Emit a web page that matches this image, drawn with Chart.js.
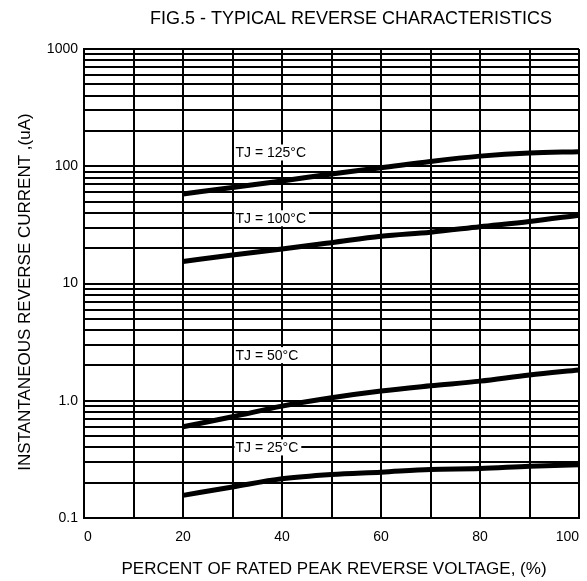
<!DOCTYPE html>
<html>
<head>
<meta charset="utf-8">
<script src="https://cdn.jsdelivr.net/npm/chart.js@4.4.1/dist/chart.umd.min.js"></script>
<style>
  html, body { margin: 0; padding: 0; background: #fff; }
</style>
</head>
<body>
<canvas id="revChart" width="587" height="581"></canvas>
<script>
// percent of rated peak reverse voltage
const voltage = [20, 30, 40, 50, 60, 70, 80, 90, 100];
// instantaneous reverse current (uA) per junction temperature
const tj125 = [58, 66, 75, 86, 97, 110, 122, 130, 133];
const tj100 = [15.4, 17.5, 19.7, 22.3, 25.3, 27.4, 30.5, 33.8, 38.3];
const tj50 = [0.60, 0.73, 0.90, 1.06, 1.21, 1.34, 1.47, 1.66, 1.83];
const tj25 = [0.156, 0.184, 0.216, 0.235, 0.246, 0.259, 0.264, 0.276, 0.284];

const seriesNames = ['TJ = 125°C', 'TJ = 100°C', 'TJ = 50°C', 'TJ = 25°C'];

const xTickValues = [0, 10, 20, 30, 40, 50, 60, 70, 80, 90, 100];
const yTickValues = [
  0.1, 0.2, 0.3, 0.4, 0.5, 0.6, 0.7, 0.8, 0.9,
  1, 2, 3, 4, 5, 6, 7, 8, 9,
  10, 20, 30, 40, 50, 60, 70, 80, 90,
  100, 200, 300, 400, 500, 600, 700, 800, 900,
  1000
];
const yTickLabels = { 0.1: '0.1', 1: '1.0', 10: '10', 100: '100', 1000: '1000' };

const FONT = "'Liberation Sans', Arial, sans-serif";

// where each curve's tag sits, in data units (x, uA)
const tagSpots = [
  { x: 30, y: 131 },
  { x: 30, y: 36 },
  { x: 30, y: 2.45 },
  { x: 30, y: 0.40 }
];

const textPlugin = {
  id: 'textPlugin',
  afterDraw(chart) {
    const ctx = chart.ctx;
    const xs = chart.scales.x, ys = chart.scales.y;
    ctx.save();
    ctx.fillStyle = '#000';

    // title
    ctx.font = '18px ' + FONT;
    ctx.textAlign = 'center';
    ctx.textBaseline = 'middle';
    ctx.fillText('FIG.5 - TYPICAL REVERSE CHARACTERISTICS', 351, 19);

    // x axis title
    ctx.font = '17px ' + FONT;
    ctx.fillText('PERCENT OF RATED PEAK REVERSE VOLTAGE, (%)', 334, 569);

    // y axis title
    ctx.save();
    ctx.translate(25, 292);
    ctx.rotate(-Math.PI / 2);
    ctx.fillText('INSTANTANEOUS REVERSE CURRENT ,(uA)', 0, 0);
    ctx.restore();

    // curve tags with white boxes over the grid
    ctx.font = '14px ' + FONT;
    ctx.textAlign = 'left';
    tagSpots.forEach((p, i) => {
      const px = xs.getPixelForValue(p.x) + 2;
      const py = ys.getPixelForValue(p.y);
      const w = ctx.measureText(seriesNames[i]).width + 4;
      ctx.fillStyle = '#fff';
      ctx.fillRect(px, py - 8, w, 16);
      ctx.fillStyle = '#000';
      ctx.fillText(seriesNames[i], px + 1, py + 1);
    });
    ctx.restore();
  }
};

const curve = (label, data) => ({
  label: label,
  data: voltage.map((v, i) => ({ x: v, y: data[i] })),
  borderColor: '#000',
  backgroundColor: '#000',
  borderWidth: 5,
  pointRadius: 0,
  fill: false,
  cubicInterpolationMode: 'monotone'
});

const revCtx = document.getElementById('revChart').getContext('2d');
const revChart = new Chart(revCtx, {
  type: 'line',
  data: {
    datasets: [
      curve(seriesNames[0], tj125),
      curve(seriesNames[1], tj100),
      curve(seriesNames[2], tj50),
      curve(seriesNames[3], tj25)
    ]
  },
  options: {
    responsive: false,
    animation: false,
    devicePixelRatio: 1,
    layout: { padding: { top: 49, right: 8, left: 0, bottom: 0 } },
    plugins: {
      legend: { display: false },
      tooltip: { enabled: false },
      title: { display: false }
    },
    scales: {
      x: {
        type: 'linear',
        min: 0,
        max: 100,
        afterBuildTicks: s => { s.ticks = xTickValues.map(v => ({ value: v })); },
        afterFit: s => { s.height = 63; s.paddingLeft = 0; s.paddingRight = 0; },
        ticks: {
          autoSkip: false,
          maxRotation: 0,
          align: 'inner',
          padding: 11,
          color: '#000',
          font: { family: FONT, size: 14 },
          callback: v => (v % 20 === 0 ? String(v) : '')
        },
        grid: { color: '#000', lineWidth: 2, drawTicks: false },
        border: { color: '#000', width: 2 }
      },
      y: {
        type: 'logarithmic',
        min: 0.1,
        max: 1000,
        afterBuildTicks: s => { s.ticks = yTickValues.map(v => ({ value: v })); },
        afterFit: s => { s.width = 84; s.paddingTop = 0; s.paddingBottom = 0; },
        ticks: {
          autoSkip: false,
          padding: 6,
          color: '#000',
          font: { family: FONT, size: 14 },
          callback: v => yTickLabels[v] || ''
        },
        grid: { color: '#000', lineWidth: 2, drawTicks: false },
        border: { color: '#000', width: 2 }
      }
    }
  },
  plugins: [textPlugin]
});
</script>
</body>
</html>
